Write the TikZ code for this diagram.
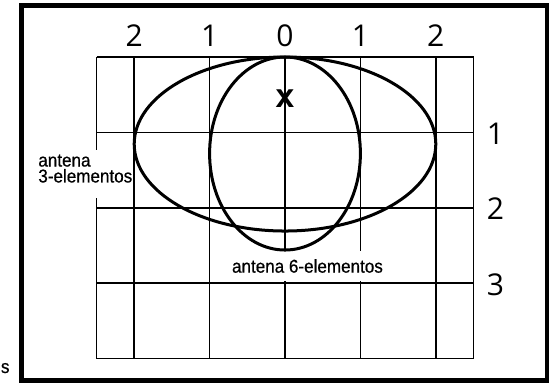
\documentclass[tikz,border=0pt]{standalone}
\usepackage{fontspec}
\setmainfont{Liberation Sans}
\newfontfamily\digitfont{Open Sans}
\newfontfamily\labelfont[FakeStretch=0.92, FakeBold=0.6]{Liberation Sans}
\usepackage{tikz}
\usetikzlibrary{positioning,calc}

\begin{document}
\begin{tikzpicture}[x=1.5cm, y=1.5cm,
        gridline/.style={draw=black, line width=1pt},
        lobe/.style={draw=black, line width=1.7pt},
        frame/.style={draw=black, line width=2.6pt},
        digit/.style={inner sep=0pt, anchor=base, font=\digitfont\fontsize{17}{17}\selectfont},
        lbl/.style={inner sep=0pt, font=\labelfont\fontsize{10.5}{9}\selectfont, align=left}
    ]

    % Page size
    \useasboundingbox (-3.780,0.756) rectangle (3.634,-4.324);

    % Outer frame
    \draw[frame] (-3.493,0.680) rectangle (3.475,-4.290);

    % Grid
    \foreach \x in {-2.5,-2,-1,0,1,2,2.5}
        \draw[gridline] (\x,0) -- (\x,-4);
    \foreach \y in {0,-1,-2,-3,-4}
        \draw[gridline] (-2.5,\y) -- (2.5,\y);

    % Distance labels
    \foreach \x/\t in {-2/2,-1/1,0/0,1/1,2/2}
        \node[digit] (top\x) at (\x,0.133) {\t};
    \foreach \y in {1,2,3}
        \node[digit] (row\y) at (2.79,-\y-0.16) {\y};

    % Antenna position
    \node[inner sep=0pt, font=\bfseries\fontsize{19}{19}\selectfont] (ant) at (0,-0.557) {x};

    % Label boxes
    \fill[white] (-3.30,-1.233) rectangle (-2.02,-1.870);
    \node[lbl, anchor=west] (three) at (-3.276,-1.480) {antena\\3-elementos};
    \node[lbl, fill=white, inner xsep=1.5pt, inner ysep=4.5pt] (six) at (0.298,-2.772) {antena 6-elementos};

    % Radiation patterns
    \draw[lobe] (0,-1.154) ellipse [x radius=2, y radius=1.154];
    \draw[lobe] (0,-1.280) ellipse [x radius=1, y radius=1.280];

    % Stray text
    \node[lbl, anchor=base west] (cut) at (-3.772,-4.191) {s};

\end{tikzpicture}
\end{document}
